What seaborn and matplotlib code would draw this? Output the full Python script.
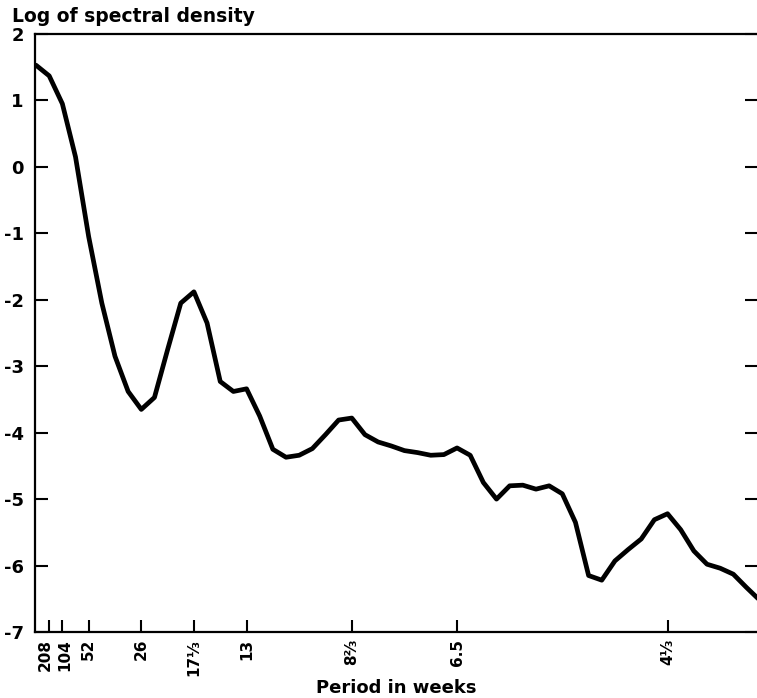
import numpy as np
import pandas as pd
import matplotlib
matplotlib.use("Agg")
import matplotlib.pyplot as plt
import matplotlib.transforms as mtransforms
import seaborn as sns

# ── Data ───────────────────────────────────────────────────
# frequency index k = 208 / period (weeks)
freq_index = list(range(0, 56))
log_density = [
    1.53, 1.37, 0.95, 0.15, -1.05, -2.05, -2.85, -3.38, -3.65, -3.47,
    -2.75, -2.05, -1.88, -2.35, -3.23, -3.38, -3.34, -3.75, -4.25, -4.37,
    -4.34, -4.24, -4.03, -3.81, -3.78, -4.03, -4.14, -4.20, -4.27, -4.30,
    -4.34, -4.33, -4.23, -4.34, -4.75, -5.00, -4.80, -4.79, -4.85, -4.80,
    -4.92, -5.35, -6.15, -6.22, -5.93, -5.76, -5.60, -5.31, -5.22, -5.46,
    -5.78, -5.98, -6.04, -6.13, -6.33, -6.52,
]
tick_periods = [208, 104, 52, 26, 52 / 3, 13, 26 / 3, 6.5, 13 / 3]
tick_labels = ["208", "104", "52", "26", "17\u2153", "13", "8\u2154", "6.5", "4\u2153"]
y_ticks = [2, 1, 0, -1, -2, -3, -4, -5, -6, -7]

df = pd.DataFrame({"k": freq_index, "logdens": log_density})

# ── Figure ─────────────────────────────────────────────────
sns.set_theme(style="ticks")
plt.rcParams["font.family"] = ["DejaVu Sans"]
plt.rcParams["font.weight"] = "bold"
plt.rcParams["text.color"] = "black"
plt.rcParams["xtick.color"] = "black"
plt.rcParams["ytick.color"] = "black"
plt.rcParams["axes.labelcolor"] = "black"

fig = plt.figure(figsize=(7.57, 6.98), dpi=100)
ax = fig.add_axes([35 / 757, 1 - 632 / 698, 1 - 35 / 757, (632 - 34) / 698])

sns.lineplot(data=df, x="k", y="logdens", color="black", linewidth=3.4, ax=ax)

ax.set_xlim(-0.08, 54.8)
ax.set_ylim(-7, 2)

ax.set_xticks([208 / p for p in tick_periods])
ax.set_xticklabels(tick_labels, rotation=90, fontsize=11, fontweight="bold")
ax.set_yticks(y_ticks)
ax.set_yticklabels([str(v) for v in y_ticks], fontsize=13, fontweight="bold")

ax.tick_params(axis="both", direction="in", length=9, width=1.5, colors="black")
ax.tick_params(axis="y", right=True, labelright=False, pad=8)
ax.tick_params(axis="x", pad=5)

# the two leftmost labels sit side by side, nudge them apart a little
xlabels = ax.get_xticklabels()
for lab, dx in [(xlabels[0], -3.5), (xlabels[1], 2.0)]:
    lab.set_transform(lab.get_transform() + mtransforms.ScaledTranslation(dx / 100, 0, fig.dpi_scale_trans))

for side in ["left", "top", "bottom"]:
    ax.spines[side].set_linewidth(1.6)
    ax.spines[side].set_color("black")
ax.spines["right"].set_visible(False)

ax.set_xlabel("Period in weeks", fontsize=13, fontweight="bold")
ax.xaxis.set_label_coords(0.5, -0.078)
ax.set_ylabel("")
fig.text(12 / 757, 1 - 17 / 698, "Log of spectral density", fontsize=13.5,
         fontweight="bold", ha="left", va="center")

fig.savefig("out.png", dpi=100)
plt.close()
